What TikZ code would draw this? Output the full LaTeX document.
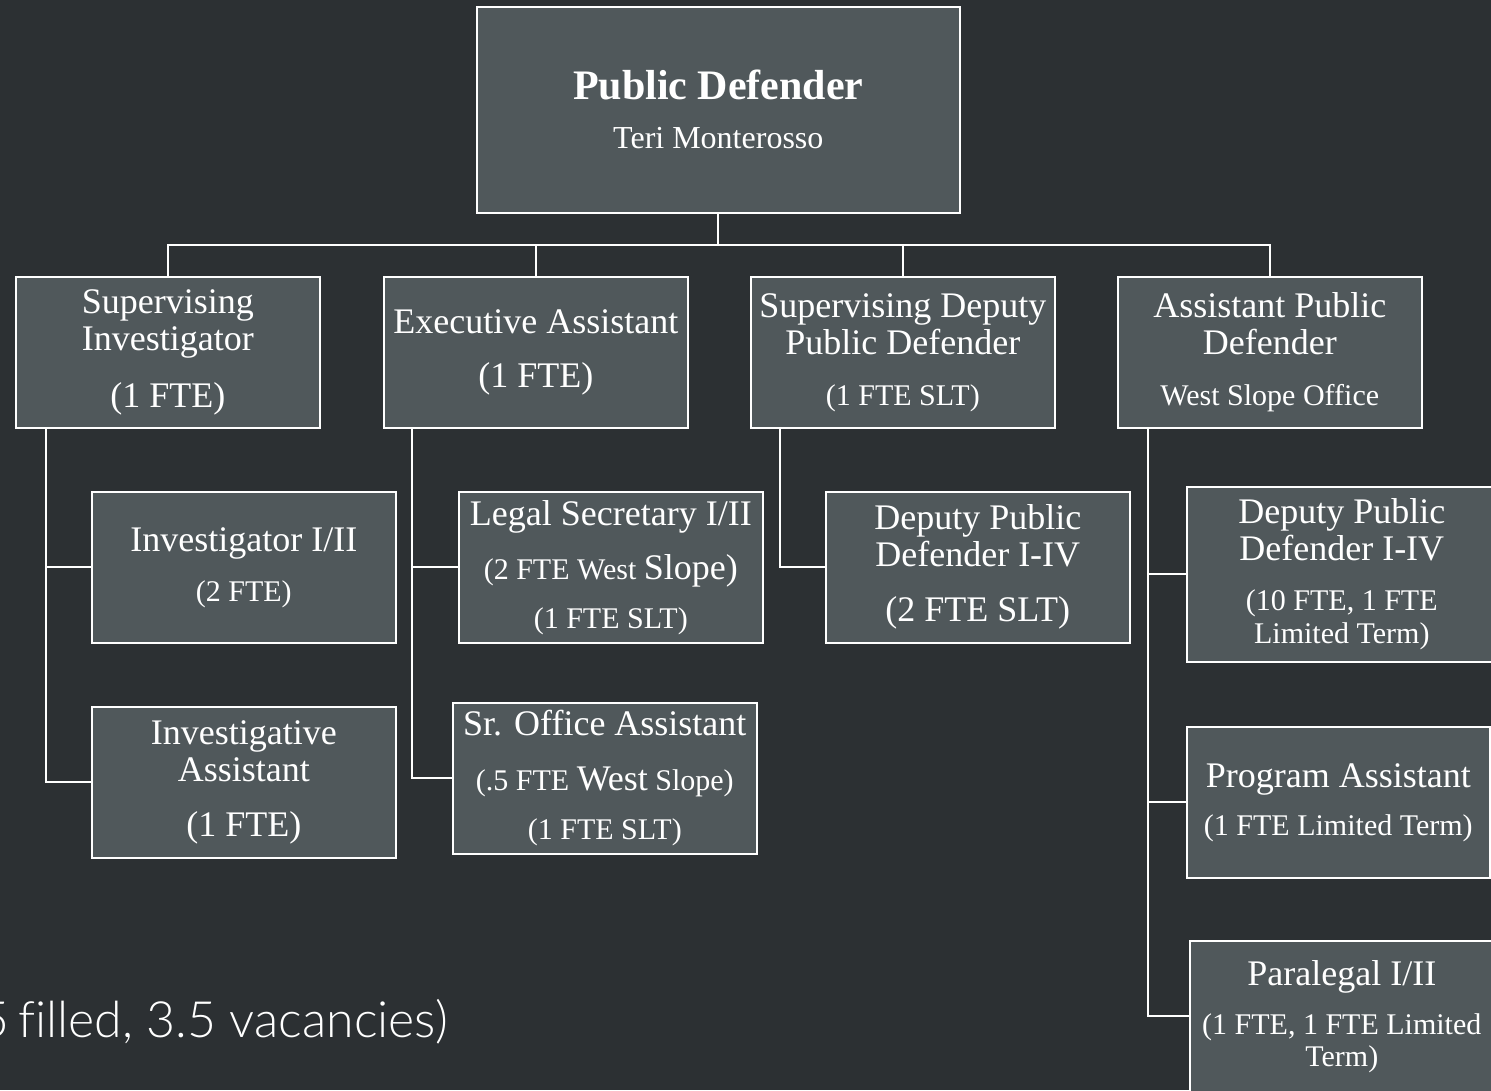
\documentclass[tikz,border=0pt]{standalone}
\usepackage{fontspec}
\setmainfont{Liberation Serif}
\newfontfamily\sanslight{Lato Light}[Ligatures=NoCommon]
\newcommand\fbig{\fontsize{36}{37}\selectfont}
\newcommand\fsmall{\fontsize{30}{31}\selectfont}
\definecolor{bgc}{RGB}{44,48,51}
\definecolor{boxc}{RGB}{80,88,91}
\tikzset{
  box/.style={rectangle, draw=white, line width=1.6pt, fill=boxc, text=white,
    minimum width=304pt, minimum height=151pt, inner sep=0pt, anchor=north west,
    align=center, font=\fbig},
  conn/.style={draw=white, line width=2pt}
}
\begin{document}
\begin{tikzpicture}[x=1pt,y=-1pt]
\useasboundingbox (0,0) rectangle (1491,1090);
\fill[bgc] (0,0) rectangle (1491,1090);
\clip (0,0) rectangle (1491,1090);

% top
\node[box, minimum width=483pt, minimum height=206pt] (pd) at (476,6)
  {{\fontsize{42}{43}\selectfont\bfseries Public Defender}\\[12pt]{\fontsize{32}{33}\selectfont Teri Monterosso}};

% level 2
\node[box] (si) at (15,276) {Supervising\\Investigator\\[20pt](1 FTE)};
\node[box] (ea) at (383,276) {Executive Assistant\\[17pt](1 FTE)};
\node[box] (sd) at (750,276) {Supervising Deputy\\Public Defender\\[14pt]{\fsmall(1 FTE SLT)}};
\node[box] (apd) at (1117,276) {Assistant Public\\Defender\\[14pt]{\fsmall West Slope Office}};

% level 3
\node[box] (inv) at (91,491) {Investigator I/II\\[13pt]{\fsmall(2 FTE)}};
\node[box] (ia) at (91,706) {Investigative\\Assistant\\[18pt](1 FTE)};
\node[box] (ls) at (458,491) {Legal Secretary I/II\\[17pt]{\fsmall(2 FTE West }Slope)\\[12pt]{\fsmall(1 FTE SLT)}};
\node[box] (so) at (452,702) {Sr. Office Assistant\\[18pt]{\fsmall(.5 FTE }West{\fsmall{} Slope)}\\[12pt]{\fsmall(1 FTE SLT)}};
\node[box] (dpm) at (825,491) {Deputy Public\\Defender I-IV\\[18pt](2 FTE SLT)};
\node[box, minimum width=310pt, minimum height=175pt] (dpr) at (1186,486) {Deputy Public\\Defender I-IV\\[13pt]{\fsmall(10 FTE, 1 FTE}\\[-4pt]{\fsmall Limited Term)}};
\node[box, minimum width=303pt] (pa) at (1186,726) {Program Assistant\\[11pt]{\fsmall(1 FTE Limited Term)}};
\node[box, minimum width=304pt] (para) at (1189,940) {Paralegal I/II\\[12pt]{\fsmall(1 FTE, 1 FTE Limited}\\[-5pt]{\fsmall Term)}};

% bus
\draw[conn] (pd.south) -- ++(0,31) coordinate (b0);
\draw[conn] (si.north) |- (b0) -| (apd.north);
\draw[conn] (ea.north) -- (ea.north |- b0);
\draw[conn] (sd.north) -- (sd.north |- b0);

% spines
\draw[conn] ([xshift=31pt]si.south west) coordinate (sp1) |- (ia.west);
\draw[conn] (inv.west) -- (inv.west -| sp1);
\draw[conn] ([xshift=29pt]ea.south west) coordinate (sp2) |- (so.west);
\draw[conn] (ls.west) -- (ls.west -| sp2);
\draw[conn] ([xshift=30pt]sd.south west) |- (dpm.west);
\draw[conn] ([xshift=31pt]apd.south west) coordinate (sp4) |- (para.west);
\draw[conn] (dpr.west) -- (dpr.west -| sp4);
\draw[conn] (pa.west) -- (pa.west -| sp4);

% note
\node[anchor=base east, inner sep=0pt, text=white, font=\sanslight\fontsize{50}{50}\selectfont] (note) at (448,1037) {5\kern-5pt\ filled, 3.5 vacancies)};
\end{tikzpicture}
\end{document}
